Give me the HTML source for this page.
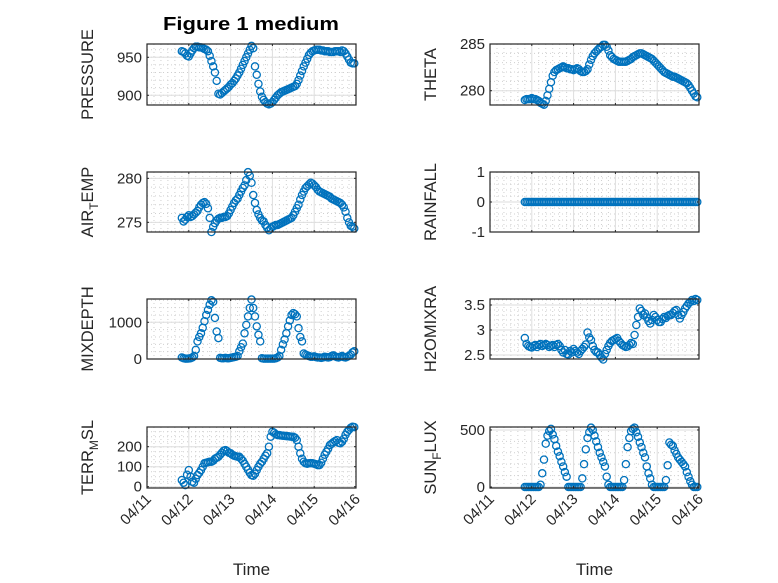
<!DOCTYPE html>
<html><head><meta charset="utf-8"><style>
html,body{margin:0;padding:0;background:#fff;}
svg{display:block;font-family:"Liberation Sans",sans-serif;}
</style></head><body>
<svg id="fig" width="778" height="583" viewBox="0 0 778 583" xmlns="http://www.w3.org/2000/svg">
<rect width="778" height="583" fill="#fff"/>
<text x="251" y="30" text-anchor="middle" font-size="18" font-weight="bold" fill="#000" textLength="176" lengthAdjust="spacingAndGlyphs">Figure 1 medium</text>
</svg>
<script>
const hours = []; for (let h = 20; h <= 119; h++) hours.push(h);
const xTickLabels = ["04/11","04/12","04/13","04/14","04/15","04/16"];
const pressureValues = [958,957,955,952,951,955,959,962,964,964,963,963,962,961,960,958,952,945,938,930,919,902,901,903,905,907,909,911,914,916,919,922,926,930,935,940,945,950,955,960,965,962,938,927,915,905,898,894,891,889,888,889,891,894,897,900,902,904,905,906,907,908,909,910,911,912,915,920,926,932,938,943,948,953,956,958,959,960,960,960,959,959,958,958,958,957,957,957,958,958,958,957,959,958,955,951,947,943,942,942];
const thetaValues = [279.0,279.1,279.1,279.1,279.2,279.1,279.1,279.0,278.9,278.7,278.6,278.5,278.9,279.5,280.2,280.9,281.6,282.0,282.2,282.3,282.4,282.5,282.6,282.5,282.4,282.4,282.3,282.3,282.2,282.3,282.4,282.3,282.1,282.0,282.0,282.1,282.3,282.8,283.3,283.7,284.0,284.2,284.4,284.6,284.7,284.9,284.9,284.7,284.3,283.8,283.6,283.4,283.3,283.2,283.1,283.1,283.1,283.1,283.1,283.2,283.3,283.4,283.6,283.7,283.8,283.9,284.0,284.0,283.9,283.8,283.7,283.6,283.5,283.4,283.2,283.0,282.8,282.6,282.4,282.2,282.0,281.9,281.8,281.7,281.6,281.5,281.5,281.4,281.3,281.2,281.1,281.0,280.9,280.8,280.6,280.3,280.0,279.7,279.4,279.3];
const airTempValues = [275.5,275.1,275.3,275.6,275.8,275.6,275.7,275.9,276.1,276.3,276.7,277.0,277.2,277.3,277.1,276.6,275.5,273.9,274.5,274.9,275.2,275.4,275.5,275.5,275.6,275.6,275.7,276.0,276.4,276.8,277.2,277.5,277.7,278.1,278.5,278.9,279.2,279.8,280.7,280.3,279.5,278.1,277.2,276.4,275.9,275.5,275.2,275.1,274.7,274.4,274.1,274.3,274.5,274.6,274.7,274.7,274.8,274.9,275.0,275.1,275.2,275.3,275.4,275.5,275.8,276.2,276.6,277.0,277.6,278.1,278.5,278.9,279.1,279.3,279.5,279.4,279.2,279.0,278.7,278.5,278.4,278.3,278.2,278.1,278.0,277.9,277.7,277.6,277.5,277.4,277.3,277.2,277.0,276.7,276.2,275.5,275.0,274.6,274.5,274.3];
const rainfallValues = hours.map(() => 0);
const mixDepthValues = [40,20,10,10,15,20,40,80,250,480,600,700,850,1030,1200,1340,1480,1600,1560,1120,750,570,30,20,20,30,20,20,30,40,50,60,80,210,320,420,700,930,1160,1390,1620,1390,1160,890,660,480,20,10,10,10,10,10,10,10,20,40,80,250,400,530,700,890,1050,1200,1250,1220,1160,840,600,480,150,120,100,80,60,60,70,50,40,40,30,40,60,50,40,50,80,100,70,50,40,60,80,50,40,60,90,120,180,210];
const h2oValues = [2.84,2.72,2.68,2.66,2.65,2.68,2.70,2.66,2.70,2.72,2.68,2.70,2.72,2.70,2.66,2.68,2.70,2.66,2.70,2.72,2.68,2.60,2.55,2.60,2.52,2.51,2.58,2.55,2.62,2.58,2.55,2.52,2.58,2.62,2.66,2.71,2.95,2.85,2.80,2.68,2.60,2.56,2.55,2.50,2.45,2.41,2.52,2.60,2.68,2.74,2.78,2.80,2.82,2.84,2.78,2.74,2.70,2.68,2.66,2.67,2.70,2.74,2.72,2.90,3.10,3.26,3.43,3.38,3.30,3.33,3.25,3.18,3.13,3.20,3.30,3.26,3.20,3.16,3.16,3.22,3.26,3.24,3.28,3.30,3.30,3.34,3.38,3.40,3.30,3.23,3.30,3.36,3.43,3.48,3.53,3.56,3.60,3.58,3.62,3.60];
const terrValues = [33,20,8,60,83,50,25,20,40,58,70,83,100,117,120,122,125,125,130,140,145,150,160,170,180,183,178,170,167,160,155,152,150,150,140,130,115,100,85,70,58,55,65,83,100,115,125,140,155,167,200,250,275,270,262,258,258,256,255,254,253,252,251,250,250,245,233,200,167,140,125,117,115,117,118,117,115,112,108,108,120,140,160,175,190,208,215,222,228,233,220,217,225,240,260,275,285,295,300,298];
const sunValues = [0,0,0,0,0,0,0,0,0,20,120,240,380,450,490,510,460,420,360,310,270,220,180,130,90,0,0,0,0,0,0,0,0,75,200,330,430,480,520,500,450,400,350,300,260,220,180,90,20,0,0,0,0,0,0,0,0,60,200,350,430,490,510,520,480,440,390,350,300,260,180,120,75,20,0,0,0,0,0,0,0,60,190,390,370,360,320,290,260,240,220,200,180,130,90,50,20,0,0,0];

const NS = "http://www.w3.org/2000/svg";
const svg = document.getElementById("fig");
function mk(tag, attrs, parent) {
  const e = document.createElementNS(NS, tag);
  for (const k in attrs) e.setAttribute(k, attrs[k]);
  (parent || svg).appendChild(e);
  return e;
}
const panels = [
  {id:"pressure", label:["PRESSURE"], col:0, row:0, ymin:887.2, ymax:967.5, ticks:[900,950], minor:10, data:pressureValues},
  {id:"theta", label:["THETA"], col:1, row:0, ymin:278.47, ymax:285, ticks:[280,285], minor:1, data:thetaValues},
  {id:"air-temp", label:["AIR","T","EMP"], col:0, row:1, ymin:273.9, ymax:280.72, ticks:[275,280], minor:1, data:airTempValues},
  {id:"rainfall", label:["RAINFALL"], col:1, row:1, ymin:-1, ymax:1, ticks:[-1,0,1], minor:0.2, data:rainfallValues},
  {id:"mixdepth", label:["MIXDEPTH"], col:0, row:2, ymin:0, ymax:1635, ticks:[0,1000], minor:200, data:mixDepthValues},
  {id:"h2omixra", label:["H2OMIXRA"], col:1, row:2, ymin:2.42, ymax:3.62, ticks:[2.5,3,3.5], minor:0.1, data:h2oValues},
  {id:"terr-msl", label:["TERR","M","SL"], col:0, row:3, ymin:-6.5, ymax:298.5, ticks:[0,100,200], minor:25, data:terrValues},
  {id:"sun-flux", label:["SUN","F","LUX"], col:1, row:3, ymin:-9, ymax:526, ticks:[0,500], minor:100, data:sunValues}
];
const colX = [[147,356],[490,699]];
const rowY = [[44,105],[172,232],[299,359],[427,488]];
const ylabX = [93,436];

panels.forEach(p => {
  const [x0,x1] = colX[p.col], [y0,y1] = rowY[p.row];
  const g = mk("g", {});
  
  
  const xs = h => x0 + (h/24)/5*(x1-x0);
  const ys = v => y1 - (v-p.ymin)/(p.ymax-p.ymin)*(y1-y0);
  const grid = mk("g", {}, g);
  
  
  for (let d = 0; d < 5; d++) for (let k = 1; k < 6; k++) {
    const x = xs(d*24 + k*4);
    mk("line",{x1:x,x2:x,y1:y0,y2:y1,stroke:"#cfcfcf","stroke-width":1,"stroke-dasharray":"1 3"},grid);
  }
  const mStart = Math.ceil(p.ymin/p.minor);
  for (let k = mStart; k*p.minor <= p.ymax; k++) {
    const y = ys(k*p.minor);
    mk("line",{x1:x0,x2:x1,y1:y,y2:y,stroke:"#cfcfcf","stroke-width":1,"stroke-dasharray":"1 3"},grid);
  }
  for (let d = 1; d < 5; d++) {
    const x = xs(d*24);
    mk("line",{x1:x,x2:x,y1:y0,y2:y1,stroke:"#dedede","stroke-width":1},grid);
  }
  p.ticks.forEach(t => {
    const y = ys(t);
    mk("line",{x1:x0,x2:x1,y1:y,y2:y,stroke:"#dedede","stroke-width":1},grid);
  });
  const mg = mk("g", {fill:"none", stroke:"#0072BD", "stroke-width":1.3}, g);
  
  
  p.data.forEach((v,i) => {
    const c = mk("circle",{cx:xs(hours[i]).toFixed(2), cy:ys(v).toFixed(2), r:3.6}, mg);
    
    
  });
  const box = mk("rect",{x:x0,y:y0,width:x1-x0,height:y1-y0,fill:"none",stroke:"#262626","stroke-width":1.2},g);
  
  
  for (let d = 0; d <= 5; d++) {
    const x = xs(d*24);
    mk("line",{x1:x,x2:x,y1:y1,y2:y1-2,stroke:"#262626"},g);
    mk("line",{x1:x,x2:x,y1:y0,y2:y0+2,stroke:"#262626"},g);
  }
  p.ticks.forEach(t => {
    const y = ys(t);
    mk("line",{x1:x0,x2:x0+2,y1:y,y2:y,stroke:"#262626"},g);
    mk("line",{x1:x1,x2:x1-2,y1:y,y2:y,stroke:"#262626"},g);
    const tl = mk("text",{x:x0-5,y:y+5,"text-anchor":"end","font-size":15,fill:"#262626"},g);
    tl.textContent = String(t);
    
    
  });
  const yl = mk("text",{x:0,y:0,"text-anchor":"middle","font-size":16.5,fill:"#262626",transform:`translate(${ylabX[p.col]},${(y0+y1)/2}) rotate(-90)`},g);
  
  
  if (p.label.length === 1) yl.textContent = p.label[0];
  else {
    const a = mk("tspan",{},yl); a.textContent = p.label[0];
    const b = mk("tspan",{dy:5,"font-size":12},yl); b.textContent = p.label[1];
    const c = mk("tspan",{dy:-5},yl); c.textContent = p.label[2];
  }
  if (p.row === 3) {
    xTickLabels.forEach((lab,d) => {
      const x = xs(d*24);
      const t = mk("text",{x:0,y:0,"text-anchor":"end","font-size":15,fill:"#262626",transform:`translate(${x+5},${y1+12}) rotate(-45)`},g);
      t.textContent = lab;
      
      
    });
    const xt = mk("text",{x:(x0+x1)/2,y:575,"text-anchor":"middle","font-size":17,fill:"#262626"},g);
    xt.textContent = "Time";
    
    
  }
});
</script>
</body></html>
